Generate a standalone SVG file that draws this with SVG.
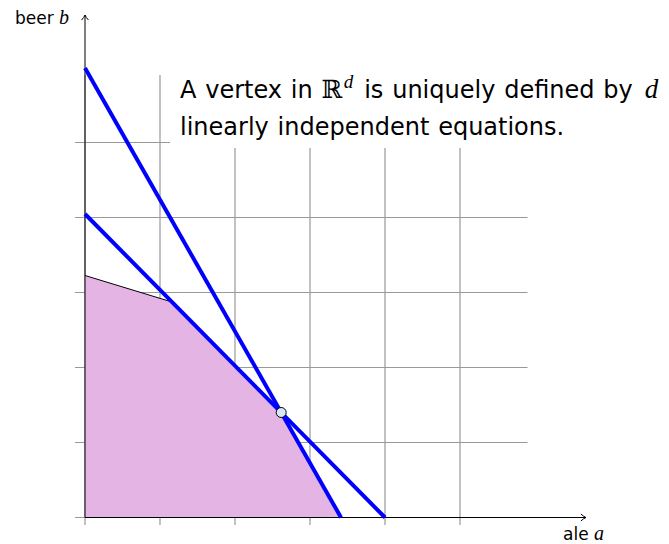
<svg xmlns="http://www.w3.org/2000/svg" width="669" height="544" viewBox="0 0 669 544">
<style>
.grid{stroke:#999;stroke-width:1.2;fill:none}
.axis{stroke:#000;stroke-width:1;fill:none}
.arrow{stroke:#000;stroke-width:1;fill:none;stroke-linecap:round}
.con{stroke:#0000ff;stroke-width:4;fill:none}
.txt{font-family:"DejaVu Sans",sans-serif;fill:#000}
.math{font-family:"Liberation Serif",serif;font-style:italic}
</style>
<rect width="669" height="544" fill="#fff"/>
<g id="grid">
<path class="grid" d="M75 517.5H527.5M75 442.5H527.5M75 367.5H527.5M75 292.5H527.5M75 217.5H527.5M75 142.5H527.5M85 75V525M160 75V525M235 75V525M310 75V525M385 75V525M460 75V525"/>
</g>
<g id="region">
<polygon points="85,517.5 85,275.5 172,302 281.2,412.5 341,517.5" fill="#e4b4e4"/>
<line x1="85" y1="275.5" x2="172" y2="302" stroke="#000" stroke-width="1"/>
</g>
<g id="label-box">
<rect x="170" y="60" width="499" height="88" fill="#fff"/>
<text class="txt" x="180" y="98" font-size="24" word-spacing="1.2">A vertex in <tspan font-family="DejaVu Serif" font-size="25">ℝ</tspan><tspan class="math" font-size="19" dx="1.5" dy="-10">d</tspan><tspan dx="2" dy="10"> is uniquely defined by </tspan><tspan class="math" font-size="27" dx="3">d</tspan></text>
<text class="txt" x="180" y="135" font-size="24" word-spacing="1.2">linearly independent equations.</text>
</g>
<g id="axes">
<line class="axis" x1="85" y1="517.5" x2="85" y2="15"/>
<line class="axis" x1="85" y1="517.5" x2="586" y2="517.5"/>
<path class="arrow" d="M81.8 19.8Q84 17.5 85 15Q86 17.5 88.2 19.8"/>
<path class="arrow" d="M581.2 514.3Q583.5 516.5 586 517.5Q583.5 518.5 581.2 520.7"/>
<text class="txt" x="15" y="24" font-size="17">beer <tspan class="math" font-size="20">b</tspan></text>
<text class="txt" x="563" y="540" font-size="17">ale <tspan class="math" font-size="20">a</tspan></text>
</g>
<g id="connectors">
<line class="con" x1="85" y1="68" x2="341" y2="517.5"/>
<line class="con" x1="85" y1="214" x2="385" y2="517.5"/>
</g>
<g id="vertex">
<circle cx="281.2" cy="412.5" r="5" fill="#d6e6f5" stroke="#000" stroke-width="1"/>
</g>
</svg>
